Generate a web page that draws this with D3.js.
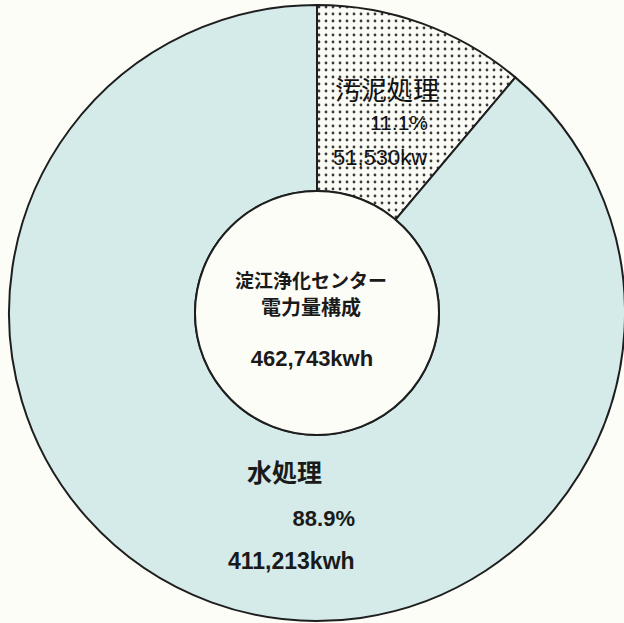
<!DOCTYPE html>
<html>
<head>
<meta charset="utf-8">
<script src="https://cdn.jsdelivr.net/npm/d3@7"></script>
<style>
  body { margin: 0; background: #fdfdf8; }
  svg { display: block; }
  text { font-family: "Noto Sans CJK JP", "Liberation Sans", sans-serif; fill: #1a1a1a; }
</style>
</head>
<body>
<div id="chart"></div>
<script>
// data
var categories = ["汚泥処理", "水処理"];
var values = [51530, 411213];
var percentLabels = ["11.1%", "88.9%"];
var amountLabels = ["51,530kw", "411,213kwh"];
var centerTitle = ["淀江浄化センター", "電力量構成"];
var totalLabel = "462,743kwh";

var width = 624,
    height = 623;
var cx = 317, cy = 313;
var outerR = 308, innerR = 122;

var svg = d3.select("#chart")
            .append("svg")
            .attr("width", width)
            .attr("height", height);

// dot pattern for the sludge slice
var defs = svg.append("defs");
var pat = defs.append("pattern")
              .attr("id", "dots")
              .attr("patternUnits", "userSpaceOnUse")
              .attr("width", 14)
              .attr("height", 14);
pat.append("rect").attr("width", 14).attr("height", 14).attr("fill", "#fbfbf6");
[[2,2],[9,2],[2,9],[9,9]].forEach(function(p){
  pat.append("circle").attr("cx", p[0]).attr("cy", p[1]).attr("r", 1.4).attr("fill", "#3a3a3a");
});

var fills = ["url(#dots)", "#d4ebea"];

var pie = d3.pie().sort(null).value(function(d){ return d; });
var arc = d3.arc().innerRadius(innerR).outerRadius(outerR);

var g = svg.append("g").attr("transform", "translate(" + cx + "," + cy + ")");

g.selectAll("path.slice")
 .data(pie(values))
 .enter()
 .append("path")
 .attr("class", "slice")
 .attr("d", arc)
 .attr("fill", function(d, i){ return fills[i]; })
 .attr("stroke", "#1e1e1e")
 .attr("stroke-width", 2);

// center hole
g.append("circle")
 .attr("r", innerR)
 .attr("fill", "#fdfdf8")
 .attr("stroke", "#1e1e1e")
 .attr("stroke-width", 2);

// center text
g.append("text").attr("x", -6).attr("y", -25).attr("text-anchor", "middle")
 .style("font-size", "19px").style("font-weight", "bold").text(centerTitle[0]);
g.append("text").attr("x", -6).attr("y", 2).attr("text-anchor", "middle")
 .style("font-size", "20px").style("font-weight", "bold").text(centerTitle[1]);
g.append("text").attr("x", -5).attr("y", 53).attr("text-anchor", "middle")
 .style("font-family", "'Liberation Sans', sans-serif")
 .style("font-size", "22px").style("font-weight", "bold").text(totalLabel);

// sludge labels
g.append("text").attr("x", 18).attr("y", -213)
 .style("font-size", "26px").style("fill", "#111").text(categories[0]);
g.append("text").attr("x", 111).attr("y", -183).attr("text-anchor", "end")
 .style("font-family", "'Liberation Sans', sans-serif")
 .style("font-size", "21px").style("fill", "#111").text(percentLabels[0]);
g.append("text").attr("x", 16).attr("y", -148)
 .style("font-family", "'Liberation Sans', sans-serif")
 .style("font-size", "22px").style("fill", "#111").text(amountLabels[0]);

// water labels
g.append("text").attr("x", -70).attr("y", 169)
 .style("font-size", "25px").style("font-weight", "bold").text(categories[1]);
g.append("text").attr("x", 38).attr("y", 213).attr("text-anchor", "end")
 .style("font-family", "'Liberation Sans', sans-serif")
 .style("font-size", "22px").style("font-weight", "bold").text(percentLabels[1]);
g.append("text").attr("x", -89).attr("y", 256)
 .style("font-family", "'Liberation Sans', sans-serif")
 .style("font-size", "23px").style("font-weight", "bold").text(amountLabels[1]);
</script>
</body>
</html>
